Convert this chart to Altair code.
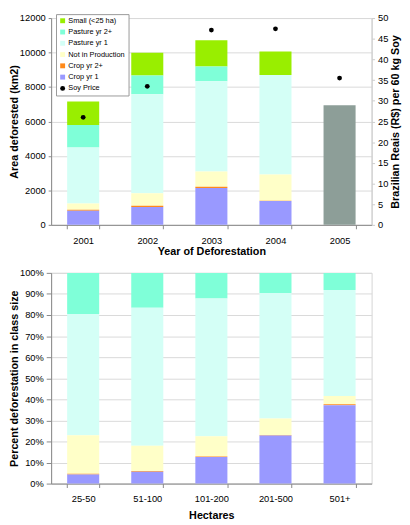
import altair as alt
import pandas as pd

# ---------------- data ----------------
years = ["2001", "2002", "2003", "2004"]
series = ["Small (<25 ha)", "Pasture yr 2+", "Pasture yr 1",
          "Not in Production", "Crop yr 2+", "Crop yr 1"]
small = [1364, 1309, 1527, 1364]
pasture2 = [1309, 1091, 855, 0]
pasture1 = [3255, 5746, 5236, 5764]
not_prod = [363, 727, 873, 1527]
crop2 = [55, 73, 73, 18]
crop1 = [818, 1036, 2145, 1382]

total_years = ["2005"]
total_area = [6945]

price_years = ["2001", "2002", "2003", "2004", "2005"]
soy_price = [26.0, 33.5, 47.1, 47.4, 35.5]

classes = ["25-50", "51-100", "101-200", "201-500", "501+"]
pct_crop1 = [4.3, 5.6, 12.6, 22.8, 37.2]
pct_crop2 = [0.35, 0.4, 0.3, 0.3, 0.5]
pct_notprod = [18.25, 12.0, 9.6, 7.8, 3.9]
pct_pasture1 = [57.6, 65.4, 65.4, 59.5, 50.3]
pct_pasture2 = [19.5, 16.6, 12.1, 9.6, 8.1]

legend_domain = series + ["Soy Price"]
legend_colors = ["#99EE00", "#7FFFD8", "#D4FFF6", "#FFFFC8",
                 "#FF8A1A", "#9999FF", "#000000"]
legend_shapes = ["square"] * 6 + ["circle"]
GRAY = "#8D9E98"
FONT = "Liberation Sans"

# ---------------- tables ----------------
top_values = {
    "Small (<25 ha)": small, "Pasture yr 2+": pasture2, "Pasture yr 1": pasture1,
    "Not in Production": not_prod, "Crop yr 2+": crop2, "Crop yr 1": crop1,
}
rows = []
for s, vals in top_values.items():
    for y, v in zip(years, vals):
        rows.append({"year": y, "series": s, "value": v,
                     "rank": 5 - series.index(s)})
df_top = pd.DataFrame(rows)
df_2005 = pd.DataFrame({"year": total_years, "value": total_area})
df_price = pd.DataFrame({"year": price_years, "price": soy_price,
                         "series": ["Soy Price"] * len(price_years)})

bot_values = {
    "Pasture yr 2+": pct_pasture2, "Pasture yr 1": pct_pasture1,
    "Not in Production": pct_notprod, "Crop yr 2+": pct_crop2, "Crop yr 1": pct_crop1,
}
rows = []
for s, vals in bot_values.items():
    for c, v in zip(classes, vals):
        rows.append({"cls": c, "series": s, "pct": v,
                     "rank": 5 - series.index(s)})
df_bot = pd.DataFrame(rows)

# ---------------- top chart ----------------
all_years = years + total_years
xenc = alt.X("year:N",
             scale=alt.Scale(domain=all_years, paddingInner=0.5, paddingOuter=0.25),
             axis=alt.Axis(title="Year of Deforestation", labelAngle=0,
                           tickBand="extent", tickSize=4, labelPadding=7,
                           titlePadding=1))
yenc = alt.Y("value:Q", stack="zero",
             scale=alt.Scale(domain=[0, 12000], nice=False),
             axis=alt.Axis(title="Area deforested (km2)", format="d",
                           values=list(range(0, 12001, 2000)),
                           tickSize=3, labelPadding=3, titlePadding=0, grid=True))

legend_cfg = alt.Legend(title=None, orient="none", legendX=5, legendY=-4,
                        fillColor="white", strokeColor="#999999", padding=3,
                        labelFontSize=7.5, symbolSize=25, rowPadding=2.5,
                        labelOffset=2, symbolStrokeWidth=0, labelFont=FONT,
                        columnPadding=0)
color_scale = alt.Scale(domain=legend_domain, range=legend_colors)

bars = alt.Chart(df_top).mark_bar().encode(
    x=xenc, y=yenc,
    color=alt.Color("series:N", scale=color_scale, legend=legend_cfg),
    order=alt.Order("rank:Q", sort="ascending"),
)
gray = alt.Chart(df_2005).mark_bar(color=GRAY).encode(x=xenc, y=yenc)

points = alt.Chart(df_price).mark_point(filled=True, size=24, opacity=1).encode(
    x=xenc,
    y=alt.Y("price:Q", scale=alt.Scale(domain=[0, 50], nice=False),
            axis=alt.Axis(orient="right", title="Brazilian Reais (R$) per 60 kg Soy",
                          values=list(range(0, 51, 5)), grid=False,
                          tickSize=3, labelPadding=3, titlePadding=13,
                          titleAngle=270,
                          domainColor="#cccccc", tickColor="#cccccc")),
    color=alt.Color("series:N", scale=color_scale, legend=legend_cfg),
    shape=alt.Shape("series:N", scale=alt.Scale(domain=legend_domain, range=legend_shapes),
                    legend=legend_cfg),
)

top = alt.layer(alt.layer(bars, gray), points).resolve_scale(
    y="independent").properties(width=327, height=211)

# ---------------- bottom chart ----------------
bottom = alt.Chart(df_bot).mark_bar().encode(
    x=alt.X("cls:N",
            scale=alt.Scale(domain=classes, paddingInner=0.5, paddingOuter=0.25),
            axis=alt.Axis(title="Hectares", labelAngle=0, tickBand="extent",
                          tickSize=4, labelPadding=6, titlePadding=7)),
    y=alt.Y("pct:Q", stack="zero", scale=alt.Scale(domain=[0, 100], nice=False),
            axis=alt.Axis(title="Percent deforestation in class size",
                          values=list(range(0, 101, 10)),
                          labelExpr="datum.value + '%'",
                          tickSize=5, labelPadding=3, titlePadding=0, grid=True)),
    color=alt.Color("series:N", scale=color_scale, legend=None),
    order=alt.Order("rank:Q", sort="ascending"),
).properties(width=327, height=215)

chart = alt.vconcat(top, bottom, spacing=10).resolve_scale(
    color="independent", shape="independent"
).properties(
    padding={"left": 0, "top": -1, "right": 0, "bottom": 0}
).configure(
    font=FONT
).configure_axis(
    labelFont=FONT, titleFont=FONT, labelFontSize=9.5, labelColor="#000000",
    titleFontSize=11, titleFontWeight="bold", titleColor="#000000",
    gridColor="#d9d9d9", domainColor="#888888", tickColor="#888888",
).configure_view(
    stroke="#d4d4d4"
)

chart.save("out.html", embed_options={"renderer": "svg", "actions": False})
